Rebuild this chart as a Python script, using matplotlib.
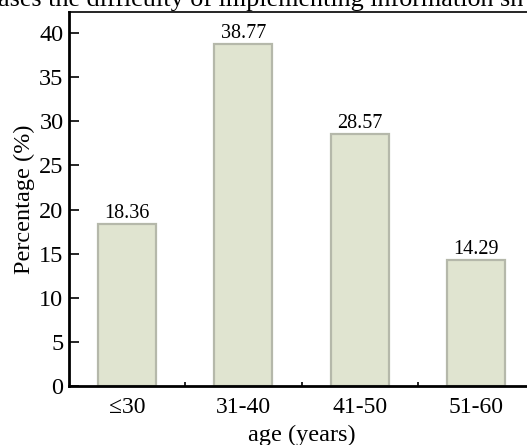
import matplotlib
matplotlib.use("Agg")
import matplotlib.pyplot as plt
from matplotlib.ticker import MultipleLocator, FixedLocator

plt.rcParams['font.family'] = ['Liberation Serif', 'DejaVu Serif']
plt.rcParams['mathtext.fontset'] = 'stix'

categories = ['≤30', '31-40', '41-50', '51-60']
values = [18.36, 38.77, 28.57, 14.29]
value_labels = ['18.36', '38.77', '28.57', '14.29']
title_text = 'ases the difficulty of implementing information sh'

W, H = 527, 445
fig = plt.figure(figsize=(W / 100, H / 100), dpi=100)
ax = fig.add_axes([69 / W, (H - 386) / H, 465 / W, (386 - 12) / H])

x = list(range(len(categories)))
bars = ax.bar(x, values, width=0.5, color='#e0e4d0', edgecolor='#b5b8aa', linewidth=1.6, zorder=2)
for xi, v, lab in zip(x, values, value_labels):
    ax.text(xi, v + 0.15, lab, ha='center', va='bottom', fontsize=14.5)

ax.set_xlim(-0.5, 3.5)
ax.set_ylim(0, 42.4)
ax.set_xticks(x)
ax.set_xticklabels(categories, fontsize=17)
ax.xaxis.set_minor_locator(FixedLocator([0.5, 1.5, 2.5]))
ax.yaxis.set_major_locator(MultipleLocator(5))
ax.tick_params(axis='y', labelsize=17.5, direction='in', length=7, width=1.2, pad=4)
ax.tick_params(axis='x', which='major', direction='in', length=5, width=1.2, pad=8)
ax.tick_params(axis='x', which='minor', direction='in', length=3, width=1.2)
ax.tick_params(axis='y', which='minor', left=False)
ax.set_xlabel('age (years)', fontsize=17.5, labelpad=4.5)
ax.set_ylabel('Percentage (%)', fontsize=17.5, labelpad=3)
for s in ['left', 'bottom']:
    ax.spines[s].set_linewidth(2)
for s in ['top', 'right']:
    ax.spines[s].set_linewidth(1.2)

fig.text(-2 / W, 1 - 6 / H, title_text, ha='left', va='baseline', fontsize=18.8)

fig.savefig('out.png', dpi=100)
